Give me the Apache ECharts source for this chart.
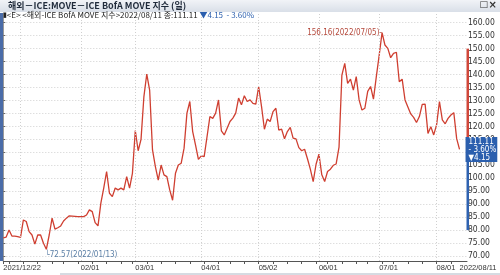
<!DOCTYPE html>
<html><head><meta charset="utf-8">
<script src="https://cdn.jsdelivr.net/npm/echarts@6/dist/echarts.min.js"></script>
<style>html,body{margin:0;padding:0;background:#fff}#c{width:500px;height:275px}</style>
</head><body><div id="c"></div>
<script>
// Trading days (categories)
const dec2021 = [22,23,27,28,29,30,31];
const jan2022 = [3,4,5,6,7,10,11,12,13,14,18,19,20,21,24,25,26,27,28,31];
const feb2022 = [1,2,3,4,7,8,9,10,11,14,15,16,17,18,22,23,24,25,28];
const mar2022 = [1,2,3,4,7,8,9,10,11,14,15,16,17,18,21,22,23,24,25,28,29,30,31];
const apr2022 = [1,4,5,6,7,8,11,12,13,14,18,19,20,21,22,25,26,27,28,29];
const may2022 = [2,3,4,5,6,9,10,11,12,13,16,17,18,19,20,23,24,25,26,27,31];
const jun2022 = [1,2,3,6,7,8,9,10,13,14,15,16,17,21,22,23,24,27,28,29,30];
const jul2022 = [1,5,6,7,8,11,12,13,14,15,18,19,20,21,22,25,26,27,28,29];
const aug2022 = [1,2,3,4,5,8,9,10,11];

// MOVE index closes
const moveValues = [
 77.0,77.3,80.0,77.7,77.7,77.5,77.2,83.9,83.3,79.4,
 78.1,74.6,78.1,78.1,74.9,72.57,78.1,84.6,80.4,80.9,
 81.6,83.5,84.6,85.5,85.4,85.3,85.2,85.2,85.2,85.8,
 87.8,87.1,82.9,81.6,90.4,96.2,102.6,94.2,92.9,96.2,
 95.5,96.2,95.5,100.6,96.2,101.9,118.4,110.6,115.0,131.5,
 140.2,134.0,110.9,104.5,99.3,105.1,101.3,100.6,95.5,91.5,
 101.9,105.1,105.8,111.6,125.1,129.6,118.0,112.8,107.3,108.6,
 108.3,116.0,123.8,123.1,125.1,130.2,118.3,116.7,119.3,121.9,
 123.2,125.1,130.9,128.3,131.8,129.6,130.2,128.9,128.6,135.3,
 127.6,118.9,122.8,121.9,125.7,127.0,118.6,118.9,115.2,118.0,
 119.6,115.5,115.2,111.8,110.6,111.2,107.5,103.5,98.7,105.4,
 109.3,101.3,98.7,102.6,103.5,105.0,105.5,112.0,139.8,144.3,
 136.6,138.2,134.0,139.2,130.2,126.3,127.0,133.5,135.4,130.5,
 139.2,147.5,156.16,151.4,150.1,146.5,148.2,148.6,137.2,138.2,
 130.2,127.5,124.8,123.5,121.5,123.8,128.5,128.6,117.3,119.9,
 116.7,120.6,129.6,122.5,121.0,123.1,124.4,125.3,115.26,111.11
];

const yTickValues = [70,75,80,85,90,95,100,105,110,115,120,125,130,135,140,145,150,155,160];
const xLabelDates = ['2021/12/22','2022/02/01','2022/03/01','2022/04/01','2022/05/02','2022/06/01','2022/07/01','2022/08/01','2022/08/11'];
const xLabelTexts = ['2021/12/22','02/01','03/01','04/01','05/02','06/01','07/01','08/01','2022/08/11'];
const xGridDates = ['2021/12/31','2022/02/01','2022/03/01','2022/04/01','2022/05/02','2022/06/01','2022/07/01','2022/08/01'];
const rangeBands = [[150,111.11],[111.11,80]];
const rangeColors = ['#d0473a','#2f62b0'];
const lastChange = '▼4.15';
const lastPct = '- 3.60%';

const pad = n => (n<10?'0':'')+n;
const dates = [];
[[2021,12,dec2021],[2022,1,jan2022],[2022,2,feb2022],[2022,3,mar2022],[2022,4,apr2022],
 [2022,5,may2022],[2022,6,jun2022],[2022,7,jul2022],[2022,8,aug2022]].forEach(([y,m,ds])=>{
  ds.forEach(d=>dates.push(y+'/'+pad(m)+'/'+pad(d)));
});
const weekStarts = [];
for (let i=0;i<dates.length;i++){
  if (i===0){weekStarts.push(0);continue;}
  const a=new Date(dates[i-1].replace(/\//g,'-')).getUTCDay();
  const b=new Date(dates[i].replace(/\//g,'-')).getUTCDay();
  if (b<=a) weekStarts.push(i);
}
const labelIdx = xLabelDates.map(d=>dates.indexOf(d));
const gridIdx = xGridDates.map(d=>dates.indexOf(d));
const lastI = moveValues.length-1;

const F = "'Liberation Sans Narrow','DejaVu Sans Condensed','Noto Sans CJK KR',sans-serif";
const FX = "'Liberation Sans',sans-serif";
const chart = echarts.init(document.getElementById('c'), null, {renderer:'canvas'});
chart.setOption({
  animation:false,
  textStyle:{fontFamily:F},
  grid:{left:3.3, right:33, top:13, bottom:14, outerBoundsMode:'none', containLabel:false},
  xAxis:{
    type:'value', min:0, max:161.6,
    axisLine:{show:true, lineStyle:{color:'#555', width:1}},
    axisTick:{show:true, customValues:weekStarts, length:3, lineStyle:{color:'#555'}},
    splitLine:{show:false},
    axisLabel:{customValues:labelIdx, fontSize:7.5, color:'#333', margin:3, align:'left', fontFamily:FX,
      hideOverlap:false,
      formatter:v=>{const k=labelIdx.indexOf(Math.round(v)); if(k<0) return ''; return xLabelTexts[k];}}
  },
  yAxis:{
    type:'value', position:'right', min:68.07, max:163.74,
    axisLine:{show:true, lineStyle:{color:'#9a9a9a'}},
    axisTick:{show:true, customValues:yTickValues, length:2, lineStyle:{color:'#666'}},
    splitLine:{show:true, lineStyle:{color:'#d0d0d0', type:[1,2]}},
    axisLabel:{customValues:yTickValues, fontSize:8.5, color:'#333', margin:1, fontFamily:F,
      formatter:v=>v.toFixed(2)}
  },
  series:[
    {
      type:'line', data:[], z:1, silent:true,
      markLine:{silent:true, symbol:'none', label:{show:false},
        lineStyle:{color:'#d0d0d0', type:[1,2], width:1},
        data:gridIdx.map(i=>({xAxis:i}))}
    },
    {
      type:'line', z:3, showSymbol:false, symbol:'none',
      data:moveValues.map((v,i)=>[i,v]),
      lineStyle:{color:'#cf3f31', width:1.3},
      markPoint:{
        symbol:'circle', symbolSize:0,
        data:[
          {type:'max', label:{show:true, position:'left', distance:0, color:'#b5493c', fontSize:8, fontFamily:F,
            formatter:p=>p.value.toFixed(2)+'('+dates[p.data.coord?p.data.coord[0]:0]+')-'}},
          {type:'min', label:{show:true, position:[-1,2], color:'#5b7fa6', fontSize:8, fontFamily:F,
            formatter:p=>'└'+p.value.toFixed(2)+'('+dates[p.data.coord?p.data.coord[0]:0]+')'}},
          {coord:[lastI, moveValues[lastI]], value:moveValues[lastI],
            label:{show:true, position:'right', distance:6, color:'#fff', backgroundColor:'#2b5fae',
              fontSize:8, lineHeight:8, padding:[1,1,0,3], fontFamily:F,
              formatter:p=>p.value.toFixed(2)+'\n'+lastPct+'\n'+lastChange}}
        ]
      }
    },
    {
      type:'custom', z:4, clip:false, silent:true,
      data:rangeBands.map((b,i)=>({value:b, itemStyle:{color:rangeColors[i]}})),
      renderItem:(params, api)=>{
        const t = api.coord([0, api.value(0)]);
        const b = api.coord([0, api.value(1)]);
        const x = params.coordSys.x + params.coordSys.width;
        return {type:'rect', shape:{x:x-0.5, y:t[1], width:2.5, height:b[1]-t[1]}, style:{fill:api.visual('color')}};
      }
    }
  ],
  graphic:[
    {type:'rect', left:0, top:0, shape:{width:500, height:12},
      style:{fill:new echarts.graphic.LinearGradient(0,0,0,1,[{offset:0,color:'#f1f3f7'},{offset:1,color:'#d9dfe8'}])}, z:10},
    {type:'text', left:8, top:1, style:{text:'해외－ICE:MOVE－ICE BofA MOVE 지수 (일)', fill:'#1f2a3a', font:"bold 9px 'Noto Sans CJK KR',sans-serif"}, z:11},
    {type:'text', right:12, top:0, style:{text:'□', fill:'#333', font:"9px 'DejaVu Sans',sans-serif"}, z:11},
    {type:'text', right:3, top:0, style:{text:'×', fill:'#333', font:"bold 10px 'DejaVu Sans',sans-serif"}, z:11},
    {type:'text', left:3, top:11, style:{
      text:'{k|▮}{d|<E> <해외-ICE BofA MOVE 지수>2022/08/11 종:111.11 }{b|'+lastChange+'  '+lastPct+'}',
      rich:{k:{fill:'#222', font:"7px 'DejaVu Sans',sans-serif"},
            d:{fill:'#222', font:"8px 'Noto Sans CJK KR',sans-serif"},
            b:{fill:'#2b5fae', font:"8px 'Noto Sans CJK KR',sans-serif"}}}, z:11},
    {type:'rect', left:0, top:13, shape:{width:3, height:248}, style:{fill:'#4a6ca8'}, z:5},
    {type:'rect', left:60, top:273, shape:{width:440, height:2}, style:{fill:'#d6dbe2'}, z:5}
  ]
});
</script></body></html>
